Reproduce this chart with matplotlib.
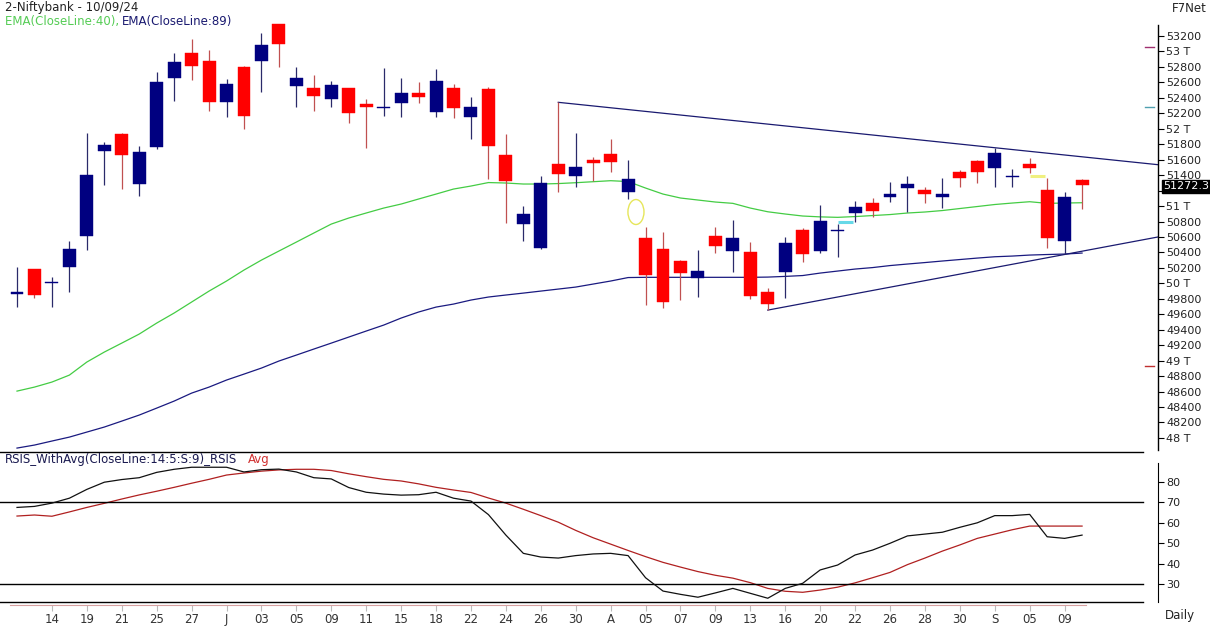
import matplotlib
matplotlib.use("Agg")
import matplotlib.pyplot as plt
from matplotlib.patches import Ellipse
import numpy as np

# ---------------- data ----------------
opens = [49860, 50185, 50005, 50207, 50616, 51716, 51932, 51285, 51768, 52660,
         52984, 52877, 52350, 52803, 52880, 53355, 52557, 52523, 52389, 52523,
         52316, 52270, 52337, 52466, 52220, 52531, 52156, 52514, 51660, 50767,
         50461, 51544, 51392, 51595, 51673, 51178, 50582, 50440, 50289, 50065,
         50612, 50422, 50401, 49883, 50142, 50690, 50422, 50675, 50906, 51035,
         51113, 51229, 51207, 51113, 51436, 51583, 51488, 51384, 51544, 51207,
         50551, 51337]
highs = [50215, 50190, 50085, 50547, 51941, 51832, 51940, 51777, 52738, 52976,
         53161, 53019, 52644, 52816, 53235, 53360, 52803, 52695, 52618, 52530,
         52381, 52782, 52653, 52601, 52769, 52575, 52415, 52544, 51932, 51000,
         51388, 52342, 51949, 51638, 51867, 51595, 50732, 50668, 50300, 50431,
         50732, 50819, 50538, 49943, 50603, 50712, 51013, 50767, 51065, 51100,
         51307, 51388, 51242, 51359, 51466, 51590, 51747, 51479, 51617, 51366,
         51177, 51345]
lows = [49697, 49806, 49689, 49891, 50431, 51272, 51220, 51133, 51738, 52363,
        52631, 52233, 52156, 51993, 52479, 52803, 52285, 52233, 52285, 52070,
        51747, 52169, 52156, 52329, 52156, 52143, 51867, 51346, 50784, 50551,
        50440, 51185, 51250, 51328, 51444, 51087, 49719, 49676, 49784, 49827,
        50388, 50150, 49793, 49654, 49806, 50279, 50396, 50336, 50789, 50854,
        51056, 50926, 51035, 50978, 51250, 51294, 51242, 51250, 51423, 50453,
        50379, 50957]
closes = [49887, 49849, 50013, 50440, 51401, 51790, 51660, 51699, 52605, 52864,
          52816, 52350, 52579, 52169, 53084, 53096, 52653, 52427, 52566, 52200,
          52277, 52280, 52459, 52407, 52618, 52272, 52277, 51781, 51328, 50897,
          51294, 51414, 51501, 51560, 51573, 51346, 50107, 49762, 50129, 50159,
          50487, 50582, 49839, 49732, 50517, 50375, 50806, 50685, 50983, 50939,
          51152, 51281, 51152, 51152, 51359, 51444, 51682, 51392, 51488, 50590,
          51113, 51272.3]

ema40 = [48606, 48658, 48723, 48813, 48982, 49111, 49227, 49344, 49486, 49616,
         49758, 49900, 50030, 50172, 50301, 50418, 50534, 50651, 50767, 50845,
         50910, 50974, 51026, 51091, 51155, 51220, 51259, 51304, 51298, 51285,
         51285, 51291, 51302, 51315, 51328, 51317, 51233, 51155, 51104, 51078,
         51052, 51035, 50974, 50926, 50897, 50871, 50860, 50854, 50864, 50877,
         50890, 50910, 50923, 50942, 50968, 50994, 51020, 51039, 51056, 51035,
         51039, 51043]
ema89 = [47869, 47908, 47960, 48011, 48076, 48141, 48218, 48296, 48386, 48477,
         48580, 48658, 48749, 48826, 48904, 48995, 49072, 49150, 49227, 49305,
         49383, 49460, 49551, 49629, 49693, 49732, 49784, 49823, 49849, 49874,
         49900, 49926, 49952, 49991, 50030, 50075, 50078, 50078, 50078, 50078,
         50078, 50078, 50078, 50081, 50090, 50101, 50133, 50159, 50185, 50204,
         50230, 50250, 50269, 50289, 50308, 50327, 50344, 50353, 50366, 50373,
         50379, 50392]

rsi = [67.5, 68.0, 69.6, 72.0, 76.3, 79.8, 81.1, 82.0, 84.6, 86.1,
       87.1, 87.1, 87.1, 84.8, 85.9, 86.2, 84.8, 82.0, 81.4, 77.2,
       74.9, 74.0, 73.5, 73.7, 74.9, 72.0, 70.6, 64.0, 54.0, 45.1,
       43.3, 42.8, 44.0, 44.8, 45.1, 44.0, 33.2, 26.7, 25.1, 23.7,
       25.8, 28.0, 25.6, 23.2, 28.0, 30.5, 37.0, 39.4, 44.3, 46.7,
       50.0, 53.6, 54.5, 55.4, 57.8, 60.0, 63.5, 63.5, 64.1, 53.2,
       52.4, 54.0]
rsi_avg = [63.3, 63.8, 63.2, 65.3, 67.5, 69.5, 71.6, 73.6, 75.4, 77.3,
           79.3, 81.2, 83.3, 84.3, 85.2, 85.8, 86.1, 86.1, 85.5, 83.9,
           82.5, 81.2, 80.4, 79.0, 77.3, 76.0, 74.8, 72.1, 69.6, 66.6,
           63.5, 60.3, 56.3, 52.7, 49.6, 46.5, 43.5, 40.7, 38.4, 36.2,
           34.4, 33.0, 30.8, 28.0, 26.6, 26.1, 27.2, 28.6, 30.7, 33.2,
           35.8, 39.6, 42.8, 46.2, 49.2, 52.4, 54.5, 56.6, 58.4, 58.4,
           58.4, 58.4]

tick_idx = [2, 4, 6, 8, 10, 12, 14, 16, 18, 20, 22, 24, 26, 28, 30, 32, 34,
            36, 38, 40, 42, 44, 46, 48, 50, 52, 54, 56, 58, 60]
tick_labels = ["14", "19", "21", "25", "27", "J", "03", "05", "09", "11", "15",
               "18", "22", "24", "26", "30", "A", "05", "07", "09", "13", "16",
               "20", "22", "26", "28", "30", "S", "05", "09"]

# trendlines (index, price)
upper_tl = [(31, 52342), (65.35, 51535)]
lower_tl = [(43, 49654), (65.35, 50600)]

last_price = 51272.3

# ---------------- figure ----------------
W, H = 1210, 626
fig = plt.figure(figsize=(W / 100, H / 100), dpi=100)
fig.patch.set_facecolor("white")
plt.rcParams['font.family'] = ['DejaVu Sans']

PX = 12.937  # price per pixel


def p_at(y):
    return 53200 - (y - 36) * PX


def fx(x):
    return x / W


def fy(y):
    return 1 - y / H


XL = (-17 / 17.46, (1158 - 17) / 17.46)
ax_w = 1158 / W
ax = fig.add_axes([0, fy(452), ax_w, (452 - 20) / H])
ax.set_xlim(*XL)
ax.set_ylim(p_at(452), p_at(20))

n = len(closes)
xs = np.arange(n)
blue = "#000080"
red = "#ff0000"
for i in range(n):
    o, h, l, c = opens[i], highs[i], lows[i], closes[i]
    up = c >= o
    col = blue if up else red
    wcol = "#2a2a6a" if up else "#c05050"
    ax.vlines(i, l, h, color=wcol, lw=0.9, zorder=2)
    lo = min(o, c)
    hgt = max(abs(c - o), 14)
    ax.bar(i, hgt, bottom=lo - (hgt - abs(c - o)) / 2, width=0.74,
           color=col, edgecolor=col, lw=0.3, zorder=3)

ax.plot(xs, ema40, color="#44cc44", lw=0.9, zorder=1.5)
ax.plot(xs, ema89, color="#1a1a80", lw=0.9, zorder=1.5)
ax.plot([p[0] for p in upper_tl], [p[1] for p in upper_tl], color="#1a1a70", lw=0.9, zorder=1.6)
ax.plot([p[0] for p in lower_tl], [p[1] for p in lower_tl], color="#1a1a70", lw=0.9, zorder=1.6)

# highlight marks
ax.plot([47.0, 47.9], [50797, 50797], color="#66d9e8", lw=2.2, zorder=1.7, solid_capstyle="butt")
ax.plot([58.0, 58.9], [51388, 51388], color="#f0f080", lw=2.2, zorder=1.7, solid_capstyle="butt")
ax.add_patch(Ellipse((35.45, 50923), 0.92, 323, fill=False, edgecolor="#e6e65a", lw=1.0, zorder=4))
for yp, cc in [(53058, "#a03070"), (52281, "#50a0b0"), (48930, "#c03030")]:
    ax.plot([64.6, 65.1], [yp, yp], color=cc, lw=1.0, clip_on=False, zorder=4)

for s in ["top", "left", "bottom"]:
    ax.spines[s].set_visible(False)
ax.spines["right"].set_bounds(p_at(450), p_at(25))
ax.spines["right"].set_linewidth(1.0)
ax.axhline(p_at(452), xmin=0, xmax=1143 / 1158, color="black", lw=1.0, clip_on=False)
ax.yaxis.tick_right()
pt = list(range(48000, 53201, 200))
ax.set_yticks(pt)
# 51200 label is hidden behind the last-price box in the reference
ax.set_yticklabels(["" if v == 51200 else (f"{v // 1000} T" if v % 1000 == 0 else str(v)) for v in pt])
ax.tick_params(axis="y", direction="out", length=4, width=0.8, pad=2, labelsize=8, labelcolor="#222222")
ax.set_xticks([])

ax.annotate(f"{last_price:.1f}", xy=(1.0, last_price), xycoords=("axes fraction", "data"),
            xytext=(4, -1), textcoords="offset points", va="center", ha="left",
            fontsize=8, color="white", zorder=10, annotation_clip=False,
            bbox=dict(boxstyle="square,pad=0.1", fc="black", ec="black"))

# ---------------- RSI panel ----------------
def v_at(y):
    return 70 - (y - 502.3) / 2.05


rx = fig.add_axes([0, fy(605), ax_w, (605 - 463) / H])
rx.set_xlim(*XL)
rx.set_ylim(v_at(605), v_at(463))
rx.plot(xs, rsi, color="#111111", lw=0.9, zorder=3)
rx.plot(xs, rsi_avg, color="#b02020", lw=0.9, zorder=2)
rx.axhline(70, xmax=1143 / 1158, color="black", lw=1.0)
rx.axhline(30, xmax=1143 / 1158, color="black", lw=1.0)
rx.axhline(v_at(601.5), xmax=1143 / 1158, color="black", lw=1.0, clip_on=False)
for s in ["top", "left"]:
    rx.spines[s].set_visible(False)
rx.spines["right"].set_bounds(v_at(602), v_at(463))
rx.spines["bottom"].set_color("#d8a0a0")
rx.spines["bottom"].set_bounds(-0.4, 61.2)
rx.yaxis.tick_right()
rx.set_yticks([30, 40, 50, 60, 70, 80])
rx.tick_params(axis="y", direction="out", length=4, width=0.8, pad=2, labelsize=8, labelcolor="#222222")
rx.set_xticks(tick_idx)
rx.set_xticklabels(tick_labels)
rx.tick_params(axis="x", direction="out", length=4, width=0.8, color="#bbbbbb", pad=1.5,
               labelsize=8.5, labelcolor="#333333")

# ---------------- texts ----------------
fig.text(fx(5), fy(8), "2-Niftybank - 10/09/24", fontsize=8.5, color="#222222", va="center", ha="left")
fig.text(fx(5), fy(22), "EMA(CloseLine:40), ", fontsize=8.5, color="#55cc55", va="center", ha="left")
fig.text(fx(122), fy(22), "EMA(CloseLine:89)", fontsize=8.5, color="#1a1a70", va="center", ha="left")
fig.text(fx(1207), fy(8), "F7Net", fontsize=8.5, color="#222222", va="center", ha="right")
fig.text(fx(5), fy(459), "RSIS_WithAvg(CloseLine:14:5:S:9)_RSIS", fontsize=8.5, color="#1a1a50", va="center", ha="left")
fig.text(fx(248), fy(459), "Avg", fontsize=8.5, color="#d03030", va="center", ha="left")
fig.text(fx(1180), fy(616), "Daily", fontsize=8.5, color="#222222", va="center", ha="center")

fig.savefig("out.png", dpi=100, facecolor="white")
